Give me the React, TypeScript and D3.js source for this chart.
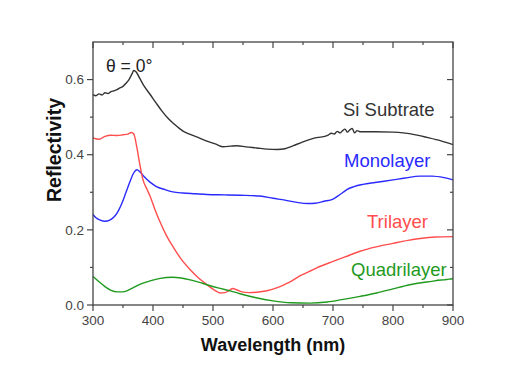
import React from "react";
import * as d3 from "d3";

const siWl = [300, 305, 310, 315, 320, 325, 330, 335, 340, 345, 350, 355, 360, 365, 368, 372, 378, 385, 395, 405, 415, 425, 435, 450, 462, 475, 490, 505, 517, 530, 540, 555, 573, 590, 607, 620, 634, 648, 662, 675, 684, 692, 697, 702, 707, 712, 716, 720, 724, 728, 732, 736, 740, 745, 770, 800, 817, 840, 857, 880, 900];
const siR = [0.560, 0.557, 0.562, 0.559, 0.565, 0.563, 0.568, 0.570, 0.573, 0.578, 0.582, 0.590, 0.600, 0.615, 0.624, 0.620, 0.603, 0.583, 0.561, 0.538, 0.516, 0.497, 0.482, 0.463, 0.454, 0.446, 0.436, 0.428, 0.421, 0.423, 0.424, 0.421, 0.418, 0.415, 0.414, 0.416, 0.424, 0.433, 0.441, 0.446, 0.448, 0.452, 0.457, 0.455, 0.462, 0.458, 0.464, 0.468, 0.460, 0.466, 0.470, 0.458, 0.464, 0.461, 0.461, 0.460, 0.458, 0.452, 0.446, 0.437, 0.427];

const monoWl = [300, 305, 312, 320, 328, 335, 342, 348, 355, 362, 368, 373, 378, 385, 395, 405, 420, 433, 450, 470, 490, 520, 545, 578, 600, 620, 640, 658, 670, 685, 700, 710, 717, 723, 735, 750, 770, 800, 820, 845, 865, 885, 900];
const monoR = [0.241, 0.232, 0.226, 0.223, 0.226, 0.234, 0.250, 0.270, 0.300, 0.330, 0.352, 0.360, 0.355, 0.342, 0.327, 0.316, 0.307, 0.301, 0.298, 0.296, 0.294, 0.293, 0.292, 0.290, 0.284, 0.279, 0.273, 0.270, 0.271, 0.276, 0.282, 0.292, 0.300, 0.307, 0.315, 0.321, 0.326, 0.333, 0.338, 0.343, 0.343, 0.339, 0.333];

const triWl = [300, 310, 320, 330, 340, 350, 358, 364, 368, 373, 378, 383, 390, 395, 403, 412, 422, 433, 447, 462, 476, 490, 502, 512, 520, 527, 533, 540, 548, 560, 573, 590, 607, 620, 630, 640, 648, 660, 673, 700, 720, 745, 770, 800, 825, 845, 870, 900];
const triR = [0.445, 0.441, 0.449, 0.452, 0.451, 0.453, 0.455, 0.459, 0.455, 0.420, 0.375, 0.335, 0.308, 0.290, 0.255, 0.220, 0.186, 0.156, 0.122, 0.094, 0.072, 0.054, 0.040, 0.032, 0.033, 0.039, 0.044, 0.040, 0.035, 0.033, 0.034, 0.038, 0.046, 0.055, 0.063, 0.073, 0.080, 0.089, 0.099, 0.116, 0.128, 0.143, 0.154, 0.164, 0.172, 0.177, 0.181, 0.182];

const quadWl = [300, 310, 320, 330, 340, 350, 358, 367, 380, 395, 412, 432, 447, 462, 476, 490, 510, 530, 545, 570, 600, 630, 662, 690, 717, 745, 773, 800, 828, 850, 865, 875, 885, 893, 900];
const quadR = [0.076, 0.062, 0.049, 0.039, 0.035, 0.035, 0.039, 0.046, 0.056, 0.064, 0.071, 0.074, 0.072, 0.067, 0.061, 0.054, 0.045, 0.037, 0.030, 0.020, 0.011, 0.006, 0.005, 0.008, 0.015, 0.023, 0.032, 0.043, 0.054, 0.060, 0.063, 0.066, 0.067, 0.069, 0.070];

const xTicks = [300, 400, 500, 600, 700, 800, 900];
const xMinor = [350, 450, 550, 650, 750, 850];
const yTicks = [0.0, 0.2, 0.4, 0.6];
const yMinor = [0.1, 0.3, 0.5];

const seriesList = [
  { name: "Si Subtrate", wl: siWl, r: siR, color: "#333333", lx: 343, ly: 116 },
  { name: "Monolayer", wl: monoWl, r: monoR, color: "#2a2aff", lx: 344, ly: 167 },
  { name: "Trilayer", wl: triWl, r: triR, color: "#ff4d4d", lx: 367, ly: 228 },
  { name: "Quadrilayer", wl: quadWl, r: quadR, color: "#1f9a1f", lx: 351, ly: 276 },
];

export default function App() {
  const W = 528, H = 368;
  const left = 93, right = 453, top = 42, bottom = 305;
  const x = d3.scaleLinear().domain([300, 900]).range([left, right]);
  const y = d3.scaleLinear().domain([0, 0.7]).range([bottom, top]);
  const axisColor = "#444";
  const font = "Arial, 'Liberation Sans', Helvetica, sans-serif";

  return (
    <svg width={W} height={H} style={{ position: "absolute", left: 0, top: 0, background: "#fff" }} fontFamily={font}>
      {seriesList.map((s) => {
        const pts = s.wl.map((w, i) => [w, s.r[i]] as [number, number]);
        const line = d3.line<[number, number]>().x((d) => x(d[0])).y((d) => y(d[1])).curve(d3.curveMonotoneX);
        return <path key={s.name} d={line(pts) || ""} fill="none" stroke={s.color} strokeWidth={1.4} />;
      })}
      <rect x={left} y={top} width={right - left} height={bottom - top} fill="none" stroke={axisColor} strokeWidth={1.3} />
      {xTicks.map((t) => (
        <g key={"x" + t}>
          <line x1={x(t)} x2={x(t)} y1={bottom} y2={bottom + 6} stroke={axisColor} strokeWidth={1.2} />
          <line x1={x(t)} x2={x(t)} y1={top} y2={top + 6} stroke={axisColor} strokeWidth={1.2} />
          <text x={x(t)} y={325} textAnchor="middle" fontSize={13.5} fill="#444">{t}</text>
        </g>
      ))}
      {xMinor.map((t) => (
        <g key={"xm" + t}>
          <line x1={x(t)} x2={x(t)} y1={bottom} y2={bottom + 3} stroke={axisColor} strokeWidth={1.2} />
          <line x1={x(t)} x2={x(t)} y1={top} y2={top + 3} stroke={axisColor} strokeWidth={1.2} />
        </g>
      ))}
      {yTicks.map((t) => (
        <g key={"y" + t}>
          <line x1={left - 6} x2={left} y1={y(t)} y2={y(t)} stroke={axisColor} strokeWidth={1.2} />
          <line x1={right - 6} x2={right} y1={y(t)} y2={y(t)} stroke={axisColor} strokeWidth={1.2} />
          <text x={84} y={y(t)} dy="0.35em" textAnchor="end" fontSize={13.5} fill="#444">{t.toFixed(1)}</text>
        </g>
      ))}
      {yMinor.map((t) => (
        <g key={"ym" + t}>
          <line x1={left - 3} x2={left} y1={y(t)} y2={y(t)} stroke={axisColor} strokeWidth={1.2} />
          <line x1={right - 3} x2={right} y1={y(t)} y2={y(t)} stroke={axisColor} strokeWidth={1.2} />
        </g>
      ))}
      <text x={273} y={351} textAnchor="middle" fontSize={18} fontWeight="bold" fill="#111">Wavelength (nm)</text>
      <text transform="translate(61,150) rotate(-90)" textAnchor="middle" fontSize={19.5} fontWeight="bold" fill="#111">Reflectivity</text>
      <text x={106} y={72} fontSize={17.5} fill="#222">θ = 0°</text>
      {seriesList.map((s) => (
        <text key={"l" + s.name} x={s.lx} y={s.ly} fontSize={18.5} fill={s.color}>{s.name}</text>
      ))}
    </svg>
  );
}
